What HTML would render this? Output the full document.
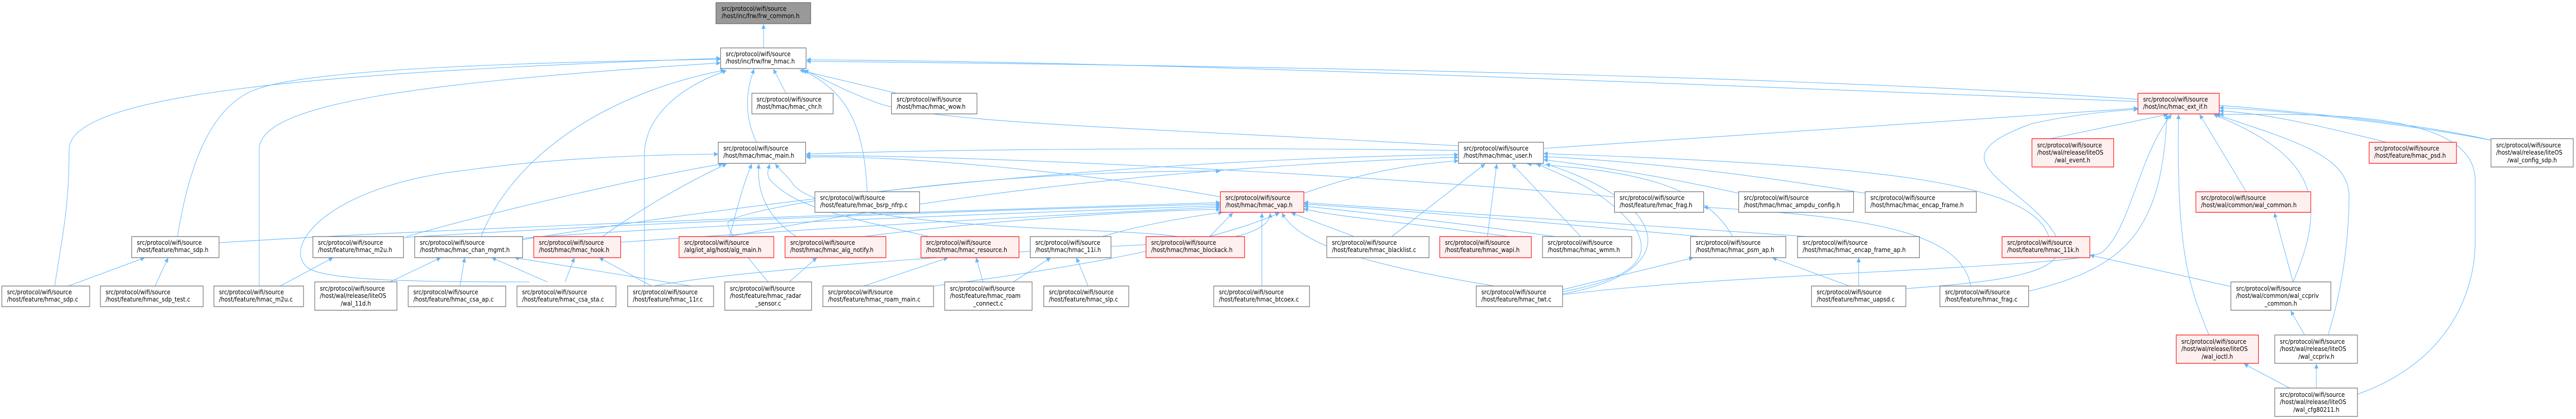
<!DOCTYPE html>
<html><head><meta charset="utf-8"><style>
html,body{margin:0;padding:0;background:#fff;overflow:hidden;width:100%;height:100%;}
svg{display:block;width:100vw;height:100vh;}
text{font-family:"DejaVu Sans","Liberation Sans",sans-serif;font-size:12px;fill:#000;}
.e{fill:none;stroke:#63b8ff;stroke-width:1.1;}
.n{fill:#fff;stroke:#666;stroke-width:1.2;}
.r{fill:#fff0f0;stroke:#ff0000;stroke-width:1.2;}
.g{fill:#999;stroke:#666;stroke-width:1.2;}
</style></head><body>
<svg viewBox="0 0 5516 813" preserveAspectRatio="none" xmlns="http://www.w3.org/2000/svg">
<defs><marker id="a" viewBox="0 0 10 10" refX="10" refY="5" markerWidth="10" markerHeight="9" markerUnits="userSpaceOnUse" orient="auto"><path d="M0,0 L10,5 L0,10 z" fill="#63b8ff"/></marker></defs>
<g class="e" marker-end="url(#a)">
<path d="M1635,93 L1635,47"/>
<path d="M117,555 C135,450 148,400 148,290 C148,180 700,140 1543,113"/>
<path d="M380,459 C400,350 440,200 560,170 C700,130 1200,120 1543,115"/>
<path d="M555,555 L555,290 C555,200 900,160 1543,122"/>
<path d="M1030,459 C1100,300 1300,180 1552,136"/>
<path d="M1380,555 L1380,300 C1380,230 1450,170 1556,137"/>
<path d="M1620,276 C1595,230 1595,180 1615,134"/>
<path d="M1683,181 L1656,134"/>
<path d="M1920,181 L1712,136"/>
<path d="M1857,372 C1850,250 1820,180 1718,136"/>
<path d="M3123,283 C2500,250 2000,240 1880,200 C1790,170 1760,150 1722,136"/>
<path d="M4578,197 C3500,160 2500,120 1727,116"/>
<path d="M5334,272 C4800,160 3000,130 1727,119"/>
<path d="M1134,547 C900,547 700,545 660,520 C600,480 700,360 1000,330 C1200,305 1400,300 1538,299"/>
<path d="M870,459 C1100,400 1400,340 1548,318"/>
<path d="M1290,459 C1380,400 1480,350 1556,318"/>
<path d="M1562,459 C1580,400 1590,360 1610,318"/>
<path d="M1705,459 C1640,420 1620,370 1625,318"/>
<path d="M1990,459 C1800,420 1700,400 1650,350 C1640,340 1645,330 1648,318"/>
<path d="M2520,459 C2400,440 1800,450 1700,360 C1690,345 1670,330 1660,318"/>
<path d="M2613,382 C2300,330 1900,300 1726,305"/>
<path d="M3123,292 C2600,285 2000,290 1726,299"/>
<path d="M3457,382 C2800,330 2000,300 1726,302"/>
<path d="M1645,547 C1600,500 1550,440 1560,430 C1600,400 2100,330 2613,332"/>
<path d="M469,471 C1000,440 2000,410 2613,393"/>
<path d="M864,461 C1400,430 2200,405 2613,396"/>
<path d="M1119,462 C1600,430 2300,410 2613,399"/>
<path d="M1329,470 C1800,440 2300,415 2613,402"/>
<path d="M1850,459 C2100,430 2400,410 2613,406"/>
<path d="M2360,459 C2450,435 2550,420 2618,412"/>
<path d="M2590,459 L2640,413"/>
<path d="M2702,555 L2702,413"/>
<path d="M2900,459 L2765,413"/>
<path d="M3230,459 C3000,430 2850,420 2792,405"/>
<path d="M3330,459 C3100,430 2900,410 2792,400"/>
<path d="M3640,459 C3300,430 2950,405 2792,396"/>
<path d="M3870,459 C3400,430 2950,400 2792,393"/>
<path d="M1400,555 C1600,520 2300,480 2560,470 C2700,460 2720,430 2720,413"/>
<path d="M2000,555 C2300,520 2600,470 2740,413"/>
<path d="M3200,555 C2900,510 2780,470 2745,413"/>
<path d="M2792,375 C2900,340 3000,320 3123,312"/>
<path d="M2980,459 L3180,318"/>
<path d="M3185,459 L3205,318"/>
<path d="M3385,459 L3238,318"/>
<path d="M3710,459 C3650,360 3500,330 3270,318"/>
<path d="M3723,375 C3550,340 3400,320 3305,310"/>
<path d="M3994,375 C3700,330 3450,310 3305,304"/>
<path d="M4387,459 C4350,350 4000,320 3305,298"/>
<path d="M1560,459 C1800,420 2300,330 3123,305"/>
<path d="M1119,465 C1700,380 2400,310 3123,300"/>
<path d="M3346,566 C3500,540 3540,500 3500,440 C3440,380 3400,360 3290,318"/>
<path d="M3346,570 C3600,530 3590,400 3310,318"/>
<path d="M3305,288 C3900,250 4300,225 4578,210"/>
<path d="M4390,269 L4642,222"/>
<path d="M4810,372 L4710,222"/>
<path d="M5110,276 C4950,240 4850,220 4752,215"/>
<path d="M5334,272 C5150,240 4900,215 4752,209"/>
<path d="M4730,650 C4690,560 4660,500 4665,222"/>
<path d="M4985,650 C5030,520 5030,400 5030,380 C5030,300 4900,270 4745,222"/>
<path d="M4910,547 C4990,380 4950,300 4740,222"/>
<path d="M5048,765 C5250,700 5300,560 5300,470 L5300,350 C5300,220 5000,220 4752,222"/>
<path d="M4344,565 C4550,520 4630,450 4640,222"/>
<path d="M3346,572 C3700,530 4450,520 4500,490 C4560,450 4580,300 4650,222"/>
<path d="M4081,560 C4400,540 4500,510 4320,380 C4240,320 4200,290 4350,240 C4450,220 4530,215 4578,212"/>
<path d="M4910,547 L4870,413"/>
<path d="M4935,650 L4905,603"/>
<path d="M4960,753 L4960,706"/>
<path d="M4903,753 L4805,706"/>
<path d="M4777,556 L4475,495"/>
<path d="M146,555 L310,500"/>
<path d="M332,555 L360,500"/>
<path d="M600,555 L713,500"/>
<path d="M835,547 L944,500"/>
<path d="M985,555 L995,500"/>
<path d="M1172,547 L1053,500"/>
<path d="M1480,555 L1102,500"/>
<path d="M1210,547 L1230,500"/>
<path d="M1395,555 L1283,500"/>
<path d="M1690,547 L1749,500"/>
<path d="M1850,555 L2030,500"/>
<path d="M2105,547 L2090,500"/>
<path d="M2170,547 L2250,500"/>
<path d="M2330,555 L2305,500"/>
<path d="M4220,555 C4200,450 4000,420 3648,402"/>
<path d="M3960,555 L3795,500"/>
<path d="M3980,555 L3980,500"/>
<path d="M3346,562 L3626,500"/>
</g>
<g>
<rect class="g" x="1533" y="5" width="203" height="41"/><text x="1545" y="21">src/protocol/wifi/source</text><text x="1545" y="35">/host/inc/frw/frw_common.h</text>
<rect class="n" x="1543" y="93" width="183" height="40"/><text x="1554" y="109">src/protocol/wifi/source</text><text x="1554" y="123">/host/inc/frw/frw_hmac.h</text>
<rect class="n" x="1610" y="181" width="174" height="40"/><text x="1620" y="197">src/protocol/wifi/source</text><text x="1620" y="211">/host/hmac/hmac_chr.h</text>
<rect class="n" x="1909" y="181" width="183" height="40"/><text x="1920" y="197">src/protocol/wifi/source</text><text x="1920" y="211">/host/hmac/hmac_wow.h</text>
<rect class="r" x="4578" y="181" width="174" height="40"/><text x="4589" y="197">src/protocol/wifi/source</text><text x="4589" y="211">/host/inc/hmac_ext_if.h</text>
<rect class="n" x="1538" y="276" width="187" height="41"/><text x="1549" y="292">src/protocol/wifi/source</text><text x="1549" y="306">/host/hmac/hmac_main.h</text>
<rect class="n" x="3123" y="276" width="182" height="41"/><text x="3134" y="292">src/protocol/wifi/source</text><text x="3134" y="306">/host/hmac/hmac_user.h</text>
<rect class="r" x="4351" y="269" width="175" height="55"/><text x="4362" y="286">src/protocol/wifi/source</text><text x="4362" y="300">/host/wal/release/liteOS</text><text x="4438" y="315" text-anchor="middle">/wal_event.h</text>
<rect class="r" x="5073" y="276" width="187" height="41"/><text x="5084" y="292">src/protocol/wifi/source</text><text x="5084" y="306">/host/feature/hmac_psd.h</text>
<rect class="n" x="5334" y="269" width="176" height="55"/><text x="5345" y="286">src/protocol/wifi/source</text><text x="5345" y="300">/host/wal/release/liteOS</text><text x="5422" y="315" text-anchor="middle">/wal_config_sdp.h</text>
<rect class="n" x="1745" y="372" width="224" height="40"/><text x="1756" y="388">src/protocol/wifi/source</text><text x="1756" y="402">/host/feature/hmac_bsrp_nfrp.c</text>
<rect class="r" x="2613" y="372" width="179" height="40"/><text x="2624" y="388">src/protocol/wifi/source</text><text x="2624" y="402">/host/hmac/hmac_vap.h</text>
<rect class="n" x="3457" y="372" width="191" height="40"/><text x="3468" y="388">src/protocol/wifi/source</text><text x="3468" y="402">/host/feature/hmac_frag.h</text>
<rect class="n" x="3723" y="372" width="246" height="40"/><text x="3734" y="388">src/protocol/wifi/source</text><text x="3734" y="402">/host/hmac/hmac_ampdu_config.h</text>
<rect class="n" x="3994" y="372" width="238" height="40"/><text x="4005" y="388">src/protocol/wifi/source</text><text x="4005" y="402">/host/hmac/hmac_encap_frame.h</text>
<rect class="r" x="4702" y="372" width="246" height="40"/><text x="4713" y="388">src/protocol/wifi/source</text><text x="4713" y="402">/host/wal/common/wal_common.h</text>
<rect class="n" x="282" y="459" width="187" height="41"/><text x="293" y="475">src/protocol/wifi/source</text><text x="293" y="489">/host/feature/hmac_sdp.h</text>
<rect class="n" x="670" y="459" width="194" height="41"/><text x="681" y="475">src/protocol/wifi/source</text><text x="681" y="489">/host/feature/hmac_m2u.h</text>
<rect class="n" x="888" y="459" width="231" height="41"/><text x="899" y="475">src/protocol/wifi/source</text><text x="899" y="489">/host/hmac/hmac_chan_mgmt.h</text>
<rect class="r" x="1143" y="459" width="186" height="41"/><text x="1154" y="475">src/protocol/wifi/source</text><text x="1154" y="489">/host/hmac/hmac_hook.h</text>
<rect class="r" x="1454" y="459" width="203" height="41"/><text x="1465" y="475">src/protocol/wifi/source</text><text x="1465" y="489">/alg/iot_alg/host/alg_main.h</text>
<rect class="r" x="1681" y="459" width="216" height="41"/><text x="1692" y="475">src/protocol/wifi/source</text><text x="1692" y="489">/host/hmac/hmac_alg_notify.h</text>
<rect class="r" x="1972" y="459" width="210" height="41"/><text x="1983" y="475">src/protocol/wifi/source</text><text x="1983" y="489">/host/hmac/hmac_resource.h</text>
<rect class="n" x="2206" y="459" width="173" height="41"/><text x="2217" y="475">src/protocol/wifi/source</text><text x="2217" y="489">/host/hmac/hmac_11i.h</text>
<rect class="r" x="2454" y="459" width="211" height="41"/><text x="2465" y="475">src/protocol/wifi/source</text><text x="2465" y="489">/host/hmac/hmac_blockack.h</text>
<rect class="n" x="2841" y="459" width="219" height="41"/><text x="2852" y="475">src/protocol/wifi/source</text><text x="2852" y="489">/host/feature/hmac_blacklist.c</text>
<rect class="r" x="3083" y="459" width="196" height="41"/><text x="3094" y="475">src/protocol/wifi/source</text><text x="3094" y="489">/host/feature/hmac_wapi.h</text>
<rect class="n" x="3303" y="459" width="191" height="41"/><text x="3314" y="475">src/protocol/wifi/source</text><text x="3314" y="489">/host/hmac/hmac_wmm.h</text>
<rect class="n" x="3620" y="459" width="204" height="41"/><text x="3631" y="475">src/protocol/wifi/source</text><text x="3631" y="489">/host/hmac/hmac_psm_ap.h</text>
<rect class="n" x="3849" y="459" width="261" height="41"/><text x="3860" y="475">src/protocol/wifi/source</text><text x="3860" y="489">/host/hmac/hmac_encap_frame_ap.h</text>
<rect class="r" x="4287" y="459" width="188" height="41"/><text x="4298" y="475">src/protocol/wifi/source</text><text x="4298" y="489">/host/feature/hmac_11k.h</text>
<rect class="n" x="4" y="555" width="188" height="40"/><text x="15" y="571">src/protocol/wifi/source</text><text x="15" y="585">/host/feature/hmac_sdp.c</text>
<rect class="n" x="215" y="555" width="220" height="40"/><text x="226" y="571">src/protocol/wifi/source</text><text x="226" y="585">/host/feature/hmac_sdp_test.c</text>
<rect class="n" x="458" y="555" width="192" height="40"/><text x="469" y="571">src/protocol/wifi/source</text><text x="469" y="585">/host/feature/hmac_m2u.c</text>
<rect class="n" x="674" y="547" width="176" height="55"/><text x="685" y="564">src/protocol/wifi/source</text><text x="685" y="578">/host/wal/release/liteOS</text><text x="762" y="593" text-anchor="middle">/wal_11d.h</text>
<rect class="n" x="874" y="555" width="209" height="40"/><text x="885" y="571">src/protocol/wifi/source</text><text x="885" y="585">/host/feature/hmac_csa_ap.c</text>
<rect class="n" x="1107" y="555" width="212" height="40"/><text x="1118" y="571">src/protocol/wifi/source</text><text x="1118" y="585">/host/feature/hmac_csa_sta.c</text>
<rect class="n" x="1344" y="555" width="184" height="40"/><text x="1355" y="571">src/protocol/wifi/source</text><text x="1355" y="585">/host/feature/hmac_11r.c</text>
<rect class="n" x="1552" y="547" width="186" height="55"/><text x="1563" y="564">src/protocol/wifi/source</text><text x="1563" y="578">/host/feature/hmac_radar</text><text x="1645" y="593" text-anchor="middle">_sensor.c</text>
<rect class="n" x="1762" y="555" width="237" height="40"/><text x="1773" y="571">src/protocol/wifi/source</text><text x="1773" y="585">/host/feature/hmac_roam_main.c</text>
<rect class="n" x="2023" y="547" width="187" height="55"/><text x="2034" y="564">src/protocol/wifi/source</text><text x="2034" y="578">/host/feature/hmac_roam</text><text x="2116" y="593" text-anchor="middle">_connect.c</text>
<rect class="n" x="2235" y="555" width="182" height="40"/><text x="2246" y="571">src/protocol/wifi/source</text><text x="2246" y="585">/host/feature/hmac_slp.c</text>
<rect class="n" x="2599" y="555" width="205" height="40"/><text x="2610" y="571">src/protocol/wifi/source</text><text x="2610" y="585">/host/feature/hmac_btcoex.c</text>
<rect class="n" x="3161" y="555" width="185" height="40"/><text x="3172" y="571">src/protocol/wifi/source</text><text x="3172" y="585">/host/feature/hmac_twt.c</text>
<rect class="n" x="3879" y="555" width="202" height="40"/><text x="3890" y="571">src/protocol/wifi/source</text><text x="3890" y="585">/host/feature/hmac_uapsd.c</text>
<rect class="n" x="4154" y="555" width="190" height="40"/><text x="4165" y="571">src/protocol/wifi/source</text><text x="4165" y="585">/host/feature/hmac_frag.c</text>
<rect class="n" x="4777" y="547" width="214" height="55"/><text x="4788" y="564">src/protocol/wifi/source</text><text x="4788" y="578">/host/wal/common/wal_ccpriv</text><text x="4884" y="593" text-anchor="middle">_common.h</text>
<rect class="r" x="4660" y="650" width="176" height="55"/><text x="4671" y="667">src/protocol/wifi/source</text><text x="4671" y="681">/host/wal/release/liteOS</text><text x="4748" y="696" text-anchor="middle">/wal_ioctl.h</text>
<rect class="n" x="4871" y="650" width="177" height="55"/><text x="4882" y="667">src/protocol/wifi/source</text><text x="4882" y="681">/host/wal/release/liteOS</text><text x="4960" y="696" text-anchor="middle">/wal_ccpriv.h</text>
<rect class="n" x="4871" y="753" width="177" height="55"/><text x="4882" y="770">src/protocol/wifi/source</text><text x="4882" y="784">/host/wal/release/liteOS</text><text x="4960" y="799" text-anchor="middle">/wal_cfg80211.h</text>
</g>
</svg>
</body></html>
